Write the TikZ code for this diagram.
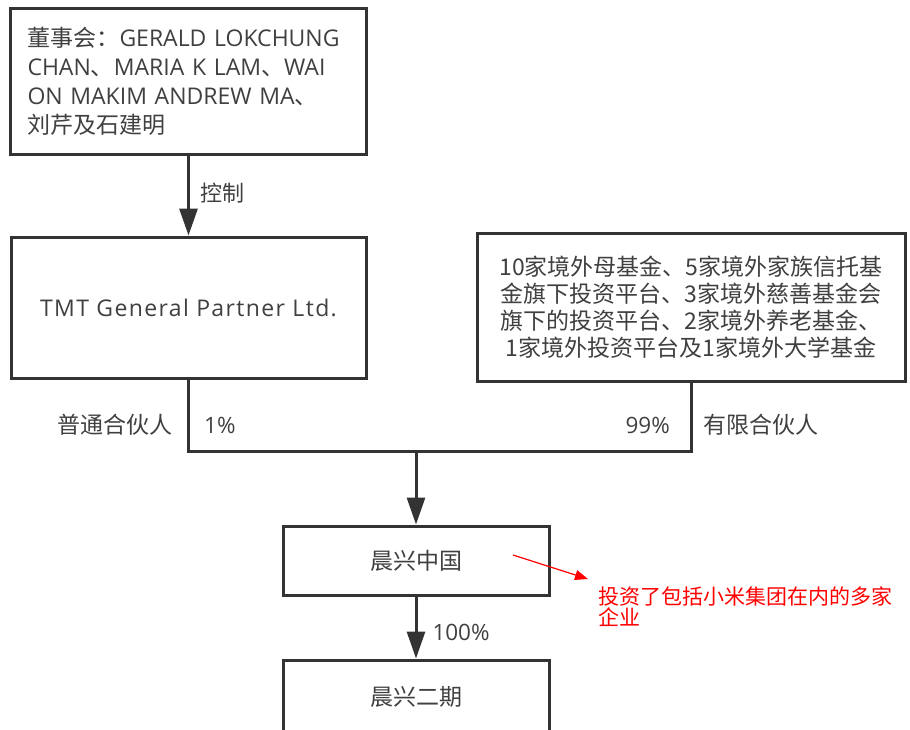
\documentclass[tikz,border=0pt]{standalone}
\usepackage{fontspec}
\setmainfont{Open Sans}
\newfontfamily\cjk{Noto Sans CJK SC}
\usetikzlibrary{positioning,arrows.meta}
\definecolor{BoxLine}{RGB}{51,51,51}
\definecolor{InkGray}{RGB}{64,64,64}
\definecolor{NoteRed}{RGB}{255,0,0}
\tikzset{
  flow/.style={-{Triangle[length=27pt,width=18pt]},line width=3pt,draw=BoxLine},
  link/.style={line width=3pt,draw=BoxLine},
  notearrow/.style={-{Triangle[length=13pt,width=10pt]},line width=1.2pt,draw=NoteRed},
  box/.style={draw=BoxLine,line width=3pt,fill=white,inner sep=0pt,align=center,
    text=InkGray,font=\fontsize{23}{27.5}\selectfont},
  tag/.style={inner sep=0pt,text=InkGray,font=\fontsize{22.5}{26}\selectfont},
  note/.style={inner sep=0pt,align=left,text=NoteRed,font=\cjk\fontsize{21}{21}\selectfont}
}

\begin{document}
\begin{tikzpicture}[x=1pt,y=-1pt,node distance=80pt]
  \useasboundingbox (0,0) rectangle (910,729);
  \node[box,minimum width=356pt,minimum height=146pt,text width=322pt,align=left,
    font=\fontsize{23}{29}\selectfont] (board) at (188.5,81)
    {{\cjk 董事会：}GERALD LOKCHUNG\\CHAN{\cjk 、}MARIA K LAM{\cjk 、}WAI\\ON MAKIM ANDREW MA{\cjk 、}\\{\cjk 刘芹及石建明}};
  \node[box,below=80pt of board,minimum width=355pt,minimum height=141pt,
    font=\addfontfeature{LetterSpace=6}\fontsize{23}{27.5}\selectfont] (tmt) {TMT General Partner Ltd.};
  \node[box,right=108pt of tmt,minimum width=428pt,minimum height=148pt,
    font=\cjk\fontsize{23}{27}\selectfont] (lp)
    {10家境外母基金、5家境外家族信托基\\金旗下投资平台、3家境外慈善基金会\\旗下的投资平台、2家境外养老基金、\\1家境外投资平台及1家境外大学基金};
  \node[box,minimum width=266pt,minimum height=69pt,font=\cjk\fontsize{23}{27}\selectfont] (cx) at (416,560.5) {晨兴中国};
  \node[box,below=62pt of cx,minimum width=266pt,minimum height=74pt,font=\cjk\fontsize{23}{27}\selectfont] (cx2) {晨兴二期};
  \coordinate (join) at (416,451);
  \draw[flow] (board) -- node[tag,pos=0.47,right=10pt,font=\cjk\fontsize{22}{26}\selectfont] {控制} (tmt);
  \draw[link] (tmt.south) |- (join) -| (lp.south);
  \draw[flow] (join) -- (cx.north);
  \draw[flow] (cx) -- node[tag,pos=0.58,right=15pt] {100\%} (cx2);

  \node[tag,anchor=east,font=\cjk\fontsize{23}{26}\selectfont] (gplabel) at (173,425) {普通合伙人};
  \node[tag,anchor=west] (gpshare) at (204,425) {1\%};
  \node[tag,anchor=east] (lpshare) at (670,425) {99\%};
  \node[tag,anchor=west,font=\cjk\fontsize{23}{26}\selectfont] (lplabel) at (703,425) {有限合伙人};

  \node[note,anchor=north west] (notetext) at (598,587) {投资了包括小米集团在内的多家\\企业};
  \coordinate (notetail) at (513,555);
  \coordinate (notehead) at (588,579);
  \draw[notearrow] (notetail) -- (notehead);
\end{tikzpicture}
\end{document}
